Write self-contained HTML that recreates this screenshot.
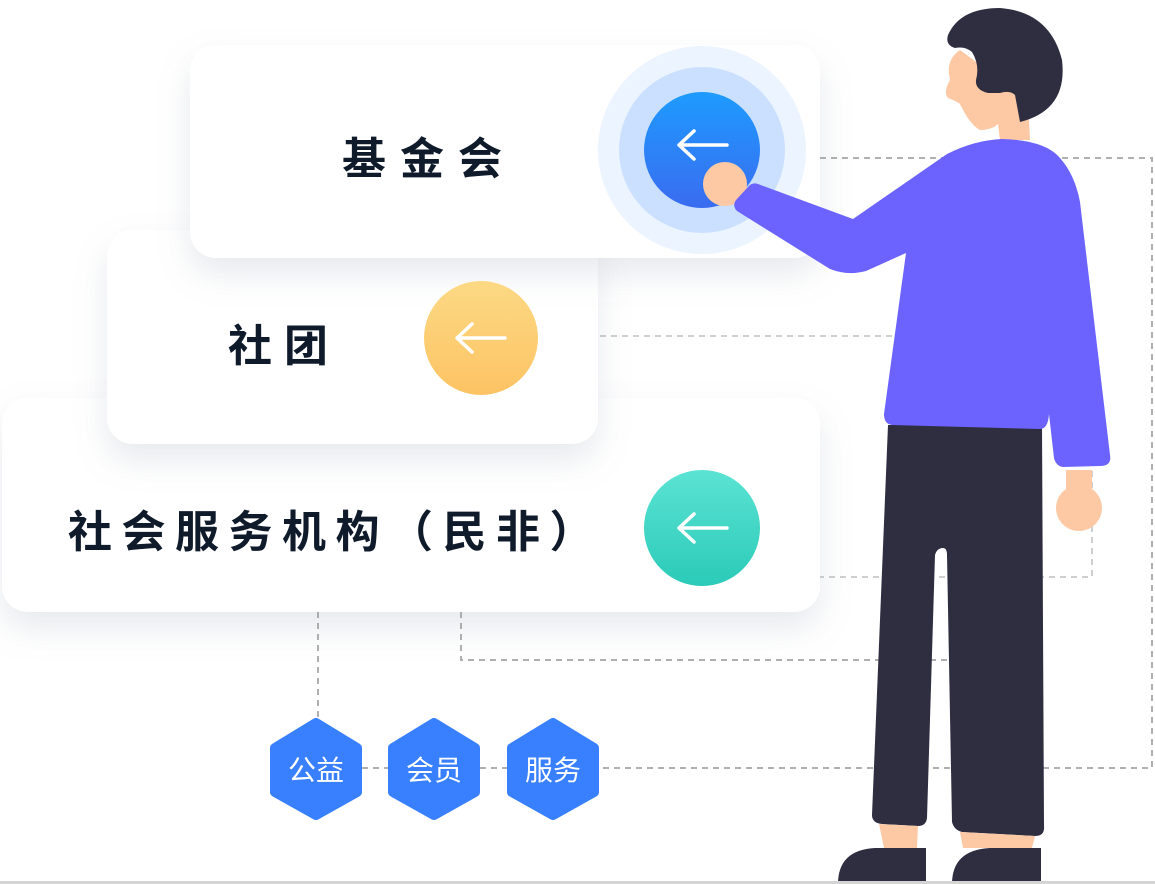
<!DOCTYPE html>
<html><head><meta charset="utf-8"><style>
html,body{margin:0;padding:0;background:#fff;}
svg{display:block}
text{font-family:"Liberation Sans","Noto Sans CJK SC",sans-serif;}
</style></head><body>
<svg width="1155" height="884" viewBox="0 0 1155 884" xmlns="http://www.w3.org/2000/svg">
<defs>
<filter id="sh" x="-20%" y="-30%" width="140%" height="170%">
<feDropShadow dx="0" dy="16" stdDeviation="16" flood-color="#8a94a8" flood-opacity="0.2"/>
</filter>
<linearGradient id="gb" x1="0" y1="0" x2="0" y2="1"><stop offset="0" stop-color="#1e9bff"/><stop offset="1" stop-color="#3a6cf0"/></linearGradient>
<linearGradient id="gy" x1="0" y1="0" x2="0" y2="1"><stop offset="0" stop-color="#fcd984"/><stop offset="1" stop-color="#fdc364"/></linearGradient>
<linearGradient id="gt" x1="0" y1="0" x2="0" y2="1"><stop offset="0" stop-color="#5be3d3"/><stop offset="1" stop-color="#2bcab8"/></linearGradient>
</defs>

<g fill="none" stroke="#b0b0b0" stroke-width="2" stroke-dasharray="6 5">
<path d="M820 158 H1152 V768 H600"/>
<path d="M362 768 H389 M480 768 H508"/>
<path d="M318 612 V718"/>
<path d="M461 612 V660 H1000"/>
</g>
<g fill="none" stroke="#cfcfcf" stroke-width="2" stroke-dasharray="6 5">
<path d="M600 336 H1092 V577 H820"/>
</g>

<rect x="2" y="398" width="818" height="214" rx="26" fill="#fff" filter="url(#sh)"/>
<rect x="107" y="230" width="491" height="214" rx="26" fill="#fff" filter="url(#sh)"/>
<rect x="190" y="45" width="630" height="213" rx="26" fill="#fff" filter="url(#sh)"/>

<text x="342" y="174" font-size="44" font-weight="bold" fill="#0f1b2a" letter-spacing="14">基金会</text>
<text x="228" y="361" font-size="44" font-weight="bold" fill="#0f1b2a" letter-spacing="12">社团</text>
<text x="68" y="547" font-size="44" font-weight="bold" fill="#0f1b2a" letter-spacing="9.5">社会服务机构（民非）</text>

<circle cx="702" cy="150" r="104" fill="#ecf4ff"/>
<circle cx="702" cy="150" r="83" fill="#cbe0ff"/>
<circle cx="702" cy="150" r="58" fill="url(#gb)"/>
<circle cx="481" cy="338" r="57" fill="url(#gy)"/>
<circle cx="702" cy="528" r="58" fill="url(#gt)"/>
<g fill="none" stroke="#fff" stroke-width="3.5" stroke-linecap="round" stroke-linejoin="round">
<path d="M727 145 H680 M694 131 L679 145 L694 159"/>
<path d="M505 338 H458 M472 324 L457 338 L472 352"/>
<path d="M727 528 H680 M694 514 L679 528 L694 542"/>
</g>

<g fill="#3880ff" stroke="#3880ff" stroke-width="10" stroke-linejoin="round">
<path d="M316 723 L357 748 V792 L316 815 L275 792 V748 Z"/>
<path d="M434 723 L475 748 V792 L434 815 L393 792 V748 Z"/>
<path d="M553 723 L594 748 V792 L553 815 L512 792 V748 Z"/>
</g>
<g fill="#fff" font-size="28" text-anchor="middle">
<text x="316" y="780">公益</text>
<text x="434" y="780">会员</text>
<text x="553" y="780">服务</text>
</g>

<path d="M960 50 Q945 60 950 80 Q943 92 948 98 Q958 102 960 104 Q970 125 980 130 Q992 130 998 124 L1000 140 L1030 140 L1028 100 Z" fill="#fdc9a5"/>
<path d="M948 35 Q960 8 1000 8 Q1050 12 1062 60 Q1068 110 1020 122 L1015 95 Q1010 90 1000 93 L988 93 Q975 90 976 80 Q980 65 972 52 Q965 46 955 48 Q945 45 948 35 Z" fill="#2f2e41"/>
<path d="M888 425 L872 815 Q872 823 882 824 L918 826 Q926 826 927 818 L935 555 Q937 548 943 548 Q947 548 947 555 L952 822 Q954 830 962 832 L1035 836 Q1045 836 1044 826 L1042 425 Z" fill="#2f2e41"/>
<path d="M879 824 L918 826 L917 848 L884 848 Z M960 832 L1035 836 L1032 848 L963 848 Z" fill="#fdc9a5"/>
<path d="M838 884 Q838 850 875 848 L926 848 L926 884 Z M952 884 Q952 850 990 848 L1041 848 L1041 884 Z" fill="#2f2e41"/>
<circle cx="1079" cy="508" r="23" fill="#fdc9a5"/>
<rect x="1066" y="470" width="26" height="30" fill="#fdc9a5"/>
<circle cx="725" cy="184" r="22" fill="#fdc9a5"/>
<path d="M947 154 Q975 140 1002 139 Q1045 140 1060 158 Q1075 175 1080 202 L1110 455 Q1112 466 1100 466 L1063 467 Q1056 466 1054 458 L1049 414 Q1048 429 1040 429 L892 425 Q884 424 884 414 L906 253 L866 271 Q848 276 830 269 L737 211 Q732 206 736 200 L748 187 Q752 182 758 184 L853 219 Z" fill="#6c63ff"/>

<rect x="0" y="881" width="1155" height="3" fill="#d4d4d4"/>
</svg>
</body></html>
